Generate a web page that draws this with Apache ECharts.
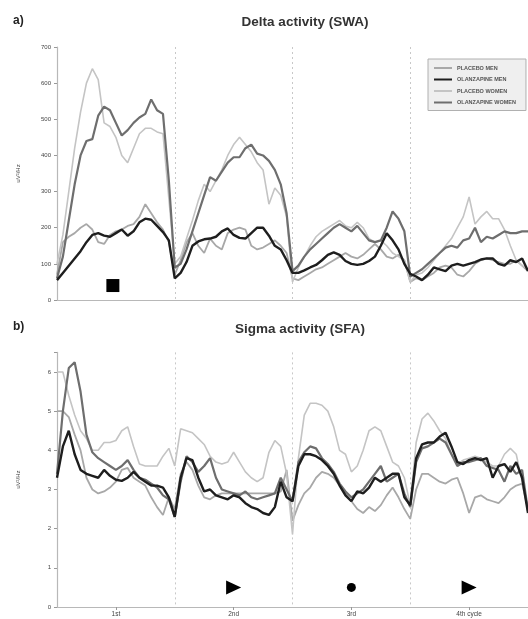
<!DOCTYPE html>
<html><head><meta charset="utf-8">
<script src="https://cdn.jsdelivr.net/npm/echarts@6/dist/echarts.min.js"></script>
<style>html,body{margin:0;padding:0;background:#fff}#c{width:528px;height:619px}</style>
</head><body><div id="c"></div>
<script>
// ---------- data ----------
const cycleLabels = ['1st', '2nd', '3rd', '4th cycle'];
const pointsPerCycle = 20;
const seriesNames = ['PLACEBO MEN', 'OLANZAPINE MEN', 'PLACEBO WOMEN', 'OLANZAPINE WOMEN'];

// a) Delta activity (SWA), uV^2/Hz
const swaPlaceboMen = [70,160,175,185,200,210,195,160,155,180,190,195,205,210,230,265,240,215,195,160,70,
  110,160,185,150,130,170,150,140,185,195,200,195,150,140,145,155,165,150,130,60,
  55,65,75,85,90,100,110,120,130,120,115,125,140,155,140,120,115,125,110,50,
  60,55,65,75,90,95,90,70,65,80,100,110,115,110,105,100,100,110,95,80];
const swaOlanzapineMen = [55,75,95,115,135,160,180,185,178,175,185,195,178,190,215,225,222,205,188,165,60,
  75,105,150,162,168,170,175,190,198,180,172,170,185,200,200,178,150,140,110,75,
  75,82,90,97,110,125,132,125,108,100,97,100,108,120,150,185,165,140,100,72,
  65,55,70,90,85,80,95,100,95,100,105,112,115,115,100,95,110,105,115,80];
const swaPlaceboWomen = [100,180,300,420,520,600,640,610,490,480,450,400,380,420,460,475,475,465,460,280,100,
  120,170,220,275,320,300,330,360,400,430,450,430,410,380,360,265,310,290,230,50,
  90,120,150,175,190,200,210,220,205,200,215,200,170,160,165,150,130,120,110,50,
  70,75,90,110,130,150,170,200,230,285,210,230,245,225,225,195,150,110,95,85];
const swaOlanzapineWomen = [60,120,220,320,400,440,445,510,535,525,490,455,470,490,505,515,555,525,515,330,90,
  100,140,190,240,290,340,330,355,380,395,395,420,430,405,400,385,360,320,240,80,
  95,120,140,155,170,185,200,210,200,190,205,185,165,160,165,200,245,225,190,65,
  75,85,100,115,130,145,150,145,165,170,200,160,175,170,180,190,185,185,190,190];

// b) Sigma activity (SFA), uV^2/Hz
const sfaPlaceboMen = [5.0,5.0,4.85,4.4,4.0,3.3,3.0,2.9,2.95,3.05,3.2,3.5,3.55,3.3,3.2,3.1,2.8,2.55,2.35,2.8,2.5,
  3.4,3.7,3.5,3.1,2.8,2.75,2.85,2.9,2.9,2.9,2.9,2.9,2.9,2.9,2.9,2.9,2.9,2.95,3.5,2.2,
  2.6,2.9,3.05,3.3,3.45,3.4,3.3,3.1,2.9,2.7,2.5,2.4,2.55,2.45,2.6,2.85,3.05,2.8,2.5,2.25,
  3.0,3.4,3.4,3.3,3.2,3.15,3.25,3.3,2.9,2.4,2.8,2.85,2.75,2.7,2.65,2.8,3.0,3.1,3.15,2.5];
const sfaOlanzapineMen = [3.3,4.1,4.5,3.9,3.5,3.4,3.35,3.3,3.5,3.35,3.25,3.22,3.3,3.45,3.3,3.2,3.1,3.1,3.05,2.8,2.3,
  3.3,3.8,3.75,3.3,2.95,3.0,2.85,2.8,2.75,2.85,2.8,2.65,2.55,2.5,2.4,2.35,2.55,3.2,2.8,2.7,
  3.6,3.9,3.9,3.85,3.75,3.6,3.4,3.1,2.85,2.7,2.95,2.9,3.05,3.3,3.2,3.3,3.4,3.4,2.8,2.6,
  3.8,4.15,4.2,4.2,4.35,4.45,4.1,3.7,3.65,3.75,3.8,3.75,3.8,3.3,3.6,3.65,3.45,3.7,3.3,2.4];
const sfaPlaceboWomen = [6.0,6.0,5.4,4.9,4.5,4.3,4.0,4.0,4.2,4.2,4.25,4.5,4.6,4.1,3.65,3.6,3.6,3.6,3.85,4.05,3.6,
  4.55,4.5,4.45,4.3,4.15,3.85,3.7,3.65,3.7,3.95,3.7,3.45,3.3,3.2,3.3,3.95,4.25,4.1,3.4,1.85,
  3.8,4.9,5.2,5.2,5.15,5.0,4.6,4.0,3.9,3.45,3.6,4.0,4.5,4.6,4.5,4.1,3.7,3.6,3.3,2.6,
  4.2,4.8,4.95,4.75,4.5,4.3,3.9,3.65,3.75,3.8,3.85,3.8,3.7,3.6,3.6,3.9,4.05,3.9,3.2,2.5];
const sfaOlanzapineWomen = [3.4,5.0,6.1,6.25,5.5,4.4,3.95,3.8,3.7,3.6,3.5,3.6,3.75,3.5,3.3,3.25,3.15,3.05,2.85,2.75,2.3,
  3.2,3.85,3.7,3.45,3.6,3.8,3.3,3.0,2.95,2.9,2.85,2.95,2.8,2.75,2.8,2.85,2.9,3.3,3.0,2.7,
  3.7,3.95,4.1,4.05,3.8,3.65,3.45,3.15,2.95,2.8,2.9,3.0,3.2,3.4,3.6,3.2,3.3,3.4,2.9,2.55,
  3.7,4.05,4.1,4.2,4.3,4.2,3.9,3.6,3.7,3.7,3.75,3.8,3.6,3.55,3.5,3.2,3.6,3.4,3.5,2.45];

// markers: [cycle index, value]
const swaMarkers = [[0, 40]];
const sfaMarkers = [[1, 0.5, 'tri'], [2, 0.5, 'dot'], [3, 0.5, 'tri']];

const swaTicks = [0,100,200,300,400,500,600,700];
const sfaTicks = [0,1,2,3,4,5,6];

// ---------- build ----------
const nPts = cycleLabels.length * pointsPerCycle + 1;
const categories = [];
for (let i = 0; i < nPts; i++) {
  const c = Math.floor(i / pointsPerCycle);
  categories.push(i % pointsPerCycle === pointsPerCycle / 2 ? cycleLabels[c] : String(i));
}
const half = pointsPerCycle / 2;
const styles = [
  {color: '#a8a8a8', width: 1.8},
  {color: '#1e1e1e', width: 2.4},
  {color: '#c4c4c4', width: 1.6},
  {color: '#6e6e6e', width: 2.2}
];
const swaData = [swaPlaceboMen, swaOlanzapineMen, swaPlaceboWomen, swaOlanzapineWomen];
const sfaData = [sfaPlaceboMen, sfaOlanzapineMen, sfaPlaceboWomen, sfaOlanzapineWomen];

const font = 'Liberation Sans, Arial, sans-serif';

function xAxis(gi, showLabels) {
  return {
    type: 'category', gridIndex: gi, data: categories, boundaryGap: false,
    axisLine: {lineStyle: {color: '#b8b8b8', width: 1.2}},
    axisTick: {show: showLabels, interval: (i) => i % pointsPerCycle === half, length: 3, lineStyle: {color: '#999'}},
    axisLabel: {show: showLabels, interval: (i) => i % pointsPerCycle === half, fontSize: 6.5, color: '#444', fontFamily: font, margin: 4},
    splitLine: {show: true, interval: (i) => i % pointsPerCycle === 0 && i > 0 && i < nPts - 1,
      lineStyle: {color: '#c8c8c8', type: [2, 3], width: 1}}
  };
}
function yAxis(gi, max, interval, ticks) {
  return {
    type: 'value', gridIndex: gi, min: 0, max: max, interval: interval,
    name: 'uV²/Hz', nameLocation: 'middle', nameRotate: 90, nameGap: 36,
    nameTextStyle: {fontSize: 6, color: '#444', fontFamily: font},
    axisLine: {show: true, lineStyle: {color: '#b8b8b8', width: 1.2}},
    axisTick: {show: true, length: 3, lineStyle: {color: '#999'}},
    axisLabel: {fontSize: 6, color: '#444', fontFamily: font, margin: 6,
      formatter: (v) => ticks.indexOf(v) >= 0 ? String(v) : ''},
    splitLine: {show: false}
  };
}

const series = [];
seriesNames.forEach((name, k) => {
  series.push({name, type: 'line', xAxisIndex: 0, yAxisIndex: 0, data: swaData[k], symbol: 'none',
    lineStyle: {color: styles[k].color, width: styles[k].width}, itemStyle: {color: styles[k].color}, z: 3 + (k === 1 ? 1 : 0)});
  series.push({name, type: 'line', xAxisIndex: 1, yAxisIndex: 1, data: sfaData[k], symbol: 'none',
    lineStyle: {color: styles[k].color, width: styles[k].width}, itemStyle: {color: styles[k].color}, z: 3 + (k === 1 ? 1 : 0)});
});
series.push({type: 'scatter', xAxisIndex: 0, yAxisIndex: 0, symbol: 'rect', symbolSize: 13, symbolOffset: [-3, 0],
  itemStyle: {color: '#000', opacity: 1}, data: swaMarkers.map(m => [m[0] * pointsPerCycle + half, m[1]]), z: 5});
series.push({type: 'scatter', xAxisIndex: 1, yAxisIndex: 1, z: 5,
  itemStyle: {color: '#000', opacity: 1},
  data: sfaMarkers.map(m => ({
    value: [m[0] * pointsPerCycle + half, m[1]],
    symbol: m[2] === 'tri' ? 'triangle' : 'circle',
    symbolSize: m[2] === 'tri' ? [14, 15] : 9,
    symbolRotate: m[2] === 'tri' ? -90 : 0,
    itemStyle: {color: '#000', opacity: 1}
  }))});

const chart = echarts.init(document.getElementById('c'), null, {renderer: 'canvas'});
chart.setOption({
  animation: false,
  backgroundColor: '#fff',
  textStyle: {fontFamily: font},
  graphic: [
    {type: 'text', left: 13, top: 15, style: {text: 'a)', font: 'bold 12px ' + font, fill: '#222'}},
    {type: 'text', x: 305, y: 22, style: {text: 'Delta activity (SWA)', font: 'bold 13.5px ' + font, fill: '#333', align: 'center', verticalAlign: 'middle'}},
    {type: 'text', left: 13, top: 321, style: {text: 'b)', font: 'bold 12px ' + font, fill: '#222'}},
    {type: 'text', x: 300, y: 329, style: {text: 'Sigma activity (SFA)', font: 'bold 13.5px ' + font, fill: '#333', align: 'center', verticalAlign: 'middle'}}
  ],
  legend: {
    data: seriesNames, orient: 'vertical', left: 428, top: 59,
    icon: 'rect', itemWidth: 18, itemHeight: 2, itemGap: 5.5,
    backgroundColor: '#efefef', borderColor: '#b0b0b0', borderWidth: 1, borderRadius: 0,
    padding: [6, 10, 5, 6],
    textStyle: {fontSize: 5.5, color: '#555', fontFamily: font, fontWeight: 'bold'}
  },
  grid: [
    {left: 57, top: 47, width: 474, height: 253, containLabel: false},
    {left: 57, top: 352.4, width: 474, height: 254.6, containLabel: false}
  ],
  xAxis: [xAxis(0, false), xAxis(1, true)],
  yAxis: [yAxis(0, 700, 100, swaTicks), yAxis(1, 6.5, 1, sfaTicks)],
  series: series
});
</script></body></html>
